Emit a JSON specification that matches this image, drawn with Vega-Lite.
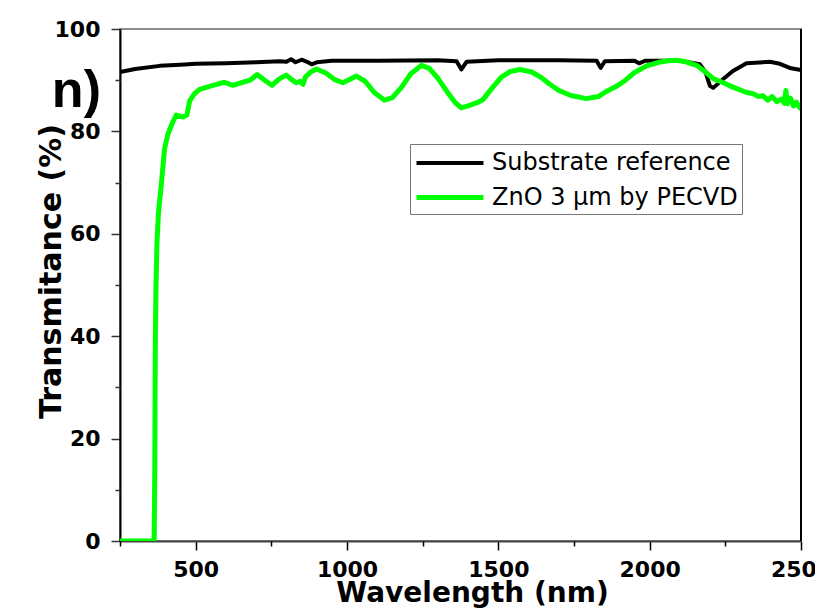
{
  "$schema": "https://vega.github.io/schema/vega-lite/v6.json",
  "width": 681,
  "height": 512,
  "autosize": {"type": "none"},
  "padding": {"left": 120, "top": 29, "right": 14, "bottom": 74},
  "background": "white",
  "config": {"view": {"stroke": "#666", "strokeWidth": 1.5}, "font": "DejaVu Sans"},
  "resolve": {"axis": {"x": "independent", "y": "independent"}},
  "datasets": {
    "spectra": [
      {"series": "Substrate reference", "wavelength": 250, "t": 91.6},
      {"series": "Substrate reference", "wavelength": 300, "t": 92.2},
      {"series": "Substrate reference", "wavelength": 381, "t": 92.8},
      {"series": "Substrate reference", "wavelength": 450, "t": 93.0},
      {"series": "Substrate reference", "wavelength": 500, "t": 93.2},
      {"series": "Substrate reference", "wavelength": 600, "t": 93.3},
      {"series": "Substrate reference", "wavelength": 700, "t": 93.5},
      {"series": "Substrate reference", "wavelength": 777, "t": 93.7},
      {"series": "Substrate reference", "wavelength": 800, "t": 93.6},
      {"series": "Substrate reference", "wavelength": 815, "t": 94.1},
      {"series": "Substrate reference", "wavelength": 830, "t": 93.5},
      {"series": "Substrate reference", "wavelength": 850, "t": 94.0},
      {"series": "Substrate reference", "wavelength": 868, "t": 93.6},
      {"series": "Substrate reference", "wavelength": 883, "t": 93.1},
      {"series": "Substrate reference", "wavelength": 900, "t": 93.5},
      {"series": "Substrate reference", "wavelength": 950, "t": 93.8},
      {"series": "Substrate reference", "wavelength": 1100, "t": 93.8},
      {"series": "Substrate reference", "wavelength": 1300, "t": 93.9},
      {"series": "Substrate reference", "wavelength": 1362, "t": 93.7},
      {"series": "Substrate reference", "wavelength": 1378, "t": 92.1},
      {"series": "Substrate reference", "wavelength": 1395, "t": 93.6},
      {"series": "Substrate reference", "wavelength": 1500, "t": 93.9},
      {"series": "Substrate reference", "wavelength": 1700, "t": 93.9},
      {"series": "Substrate reference", "wavelength": 1825, "t": 93.8},
      {"series": "Substrate reference", "wavelength": 1838, "t": 92.4},
      {"series": "Substrate reference", "wavelength": 1852, "t": 93.7},
      {"series": "Substrate reference", "wavelength": 1950, "t": 93.8},
      {"series": "Substrate reference", "wavelength": 1965, "t": 93.3},
      {"series": "Substrate reference", "wavelength": 1985, "t": 93.8},
      {"series": "Substrate reference", "wavelength": 2100, "t": 93.8},
      {"series": "Substrate reference", "wavelength": 2166, "t": 93.1},
      {"series": "Substrate reference", "wavelength": 2185, "t": 91.5},
      {"series": "Substrate reference", "wavelength": 2199, "t": 88.9},
      {"series": "Substrate reference", "wavelength": 2210, "t": 88.5},
      {"series": "Substrate reference", "wavelength": 2242, "t": 90.2},
      {"series": "Substrate reference", "wavelength": 2275, "t": 91.8},
      {"series": "Substrate reference", "wavelength": 2320, "t": 93.3},
      {"series": "Substrate reference", "wavelength": 2397, "t": 93.6},
      {"series": "Substrate reference", "wavelength": 2430, "t": 93.2},
      {"series": "Substrate reference", "wavelength": 2463, "t": 92.4},
      {"series": "Substrate reference", "wavelength": 2500, "t": 92.0},
      {"series": "ZnO 3 µm by PECVD", "wavelength": 250, "t": 0},
      {"series": "ZnO 3 µm by PECVD", "wavelength": 300, "t": 0},
      {"series": "ZnO 3 µm by PECVD", "wavelength": 363, "t": 0},
      {"series": "ZnO 3 µm by PECVD", "wavelength": 365, "t": 15},
      {"series": "ZnO 3 µm by PECVD", "wavelength": 366, "t": 30},
      {"series": "ZnO 3 µm by PECVD", "wavelength": 367, "t": 40},
      {"series": "ZnO 3 µm by PECVD", "wavelength": 369, "t": 50},
      {"series": "ZnO 3 µm by PECVD", "wavelength": 372, "t": 58},
      {"series": "ZnO 3 µm by PECVD", "wavelength": 377, "t": 64},
      {"series": "ZnO 3 µm by PECVD", "wavelength": 386, "t": 69.3},
      {"series": "ZnO 3 µm by PECVD", "wavelength": 397, "t": 76.5},
      {"series": "ZnO 3 µm by PECVD", "wavelength": 408, "t": 79.4},
      {"series": "ZnO 3 µm by PECVD", "wavelength": 425, "t": 81.9},
      {"series": "ZnO 3 µm by PECVD", "wavelength": 436, "t": 83.2},
      {"series": "ZnO 3 µm by PECVD", "wavelength": 458, "t": 82.8},
      {"series": "ZnO 3 µm by PECVD", "wavelength": 471, "t": 83.2},
      {"series": "ZnO 3 µm by PECVD", "wavelength": 480, "t": 85.9},
      {"series": "ZnO 3 µm by PECVD", "wavelength": 495, "t": 87.3},
      {"series": "ZnO 3 µm by PECVD", "wavelength": 513, "t": 88.2},
      {"series": "ZnO 3 µm by PECVD", "wavelength": 557, "t": 89.0},
      {"series": "ZnO 3 µm by PECVD", "wavelength": 595, "t": 89.6},
      {"series": "ZnO 3 µm by PECVD", "wavelength": 623, "t": 89.0},
      {"series": "ZnO 3 µm by PECVD", "wavelength": 656, "t": 89.6},
      {"series": "ZnO 3 µm by PECVD", "wavelength": 680, "t": 90.0},
      {"series": "ZnO 3 µm by PECVD", "wavelength": 703, "t": 91.1},
      {"series": "ZnO 3 µm by PECVD", "wavelength": 728, "t": 90.0},
      {"series": "ZnO 3 µm by PECVD", "wavelength": 752, "t": 89.0},
      {"series": "ZnO 3 µm by PECVD", "wavelength": 775, "t": 90.2},
      {"series": "ZnO 3 µm by PECVD", "wavelength": 799, "t": 91.0},
      {"series": "ZnO 3 µm by PECVD", "wavelength": 815, "t": 90.2},
      {"series": "ZnO 3 µm by PECVD", "wavelength": 832, "t": 89.5},
      {"series": "ZnO 3 µm by PECVD", "wavelength": 845, "t": 89.8},
      {"series": "ZnO 3 µm by PECVD", "wavelength": 855, "t": 89.2},
      {"series": "ZnO 3 µm by PECVD", "wavelength": 862, "t": 90.6},
      {"series": "ZnO 3 µm by PECVD", "wavelength": 880, "t": 91.6},
      {"series": "ZnO 3 µm by PECVD", "wavelength": 899, "t": 92.2},
      {"series": "ZnO 3 µm by PECVD", "wavelength": 930, "t": 91.4},
      {"series": "ZnO 3 µm by PECVD", "wavelength": 960, "t": 90.1},
      {"series": "ZnO 3 µm by PECVD", "wavelength": 986, "t": 89.5},
      {"series": "ZnO 3 µm by PECVD", "wavelength": 1010, "t": 90.2},
      {"series": "ZnO 3 µm by PECVD", "wavelength": 1031, "t": 90.8},
      {"series": "ZnO 3 µm by PECVD", "wavelength": 1060, "t": 89.8},
      {"series": "ZnO 3 µm by PECVD", "wavelength": 1090, "t": 87.6},
      {"series": "ZnO 3 µm by PECVD", "wavelength": 1124, "t": 86.1},
      {"series": "ZnO 3 µm by PECVD", "wavelength": 1150, "t": 86.6},
      {"series": "ZnO 3 µm by PECVD", "wavelength": 1180, "t": 88.6},
      {"series": "ZnO 3 µm by PECVD", "wavelength": 1210, "t": 91.2},
      {"series": "ZnO 3 µm by PECVD", "wavelength": 1246, "t": 92.9},
      {"series": "ZnO 3 µm by PECVD", "wavelength": 1272, "t": 92.3},
      {"series": "ZnO 3 µm by PECVD", "wavelength": 1300, "t": 90.4},
      {"series": "ZnO 3 µm by PECVD", "wavelength": 1330, "t": 87.8},
      {"series": "ZnO 3 µm by PECVD", "wavelength": 1358, "t": 85.6},
      {"series": "ZnO 3 µm by PECVD", "wavelength": 1378, "t": 84.6},
      {"series": "ZnO 3 µm by PECVD", "wavelength": 1400, "t": 85.0},
      {"series": "ZnO 3 µm by PECVD", "wavelength": 1430, "t": 85.6},
      {"series": "ZnO 3 µm by PECVD", "wavelength": 1449, "t": 86.2},
      {"series": "ZnO 3 µm by PECVD", "wavelength": 1480, "t": 88.5},
      {"series": "ZnO 3 µm by PECVD", "wavelength": 1510, "t": 90.6},
      {"series": "ZnO 3 µm by PECVD", "wavelength": 1540, "t": 91.7},
      {"series": "ZnO 3 µm by PECVD", "wavelength": 1571, "t": 92.1},
      {"series": "ZnO 3 µm by PECVD", "wavelength": 1610, "t": 91.6},
      {"series": "ZnO 3 µm by PECVD", "wavelength": 1640, "t": 90.6},
      {"series": "ZnO 3 µm by PECVD", "wavelength": 1670, "t": 89.2},
      {"series": "ZnO 3 µm by PECVD", "wavelength": 1700, "t": 88.0},
      {"series": "ZnO 3 µm by PECVD", "wavelength": 1740, "t": 87.0},
      {"series": "ZnO 3 µm by PECVD", "wavelength": 1791, "t": 86.4},
      {"series": "ZnO 3 µm by PECVD", "wavelength": 1830, "t": 86.8},
      {"series": "ZnO 3 µm by PECVD", "wavelength": 1860, "t": 87.9},
      {"series": "ZnO 3 µm by PECVD", "wavelength": 1890, "t": 88.8},
      {"series": "ZnO 3 µm by PECVD", "wavelength": 1920, "t": 90.0},
      {"series": "ZnO 3 µm by PECVD", "wavelength": 1950, "t": 91.5},
      {"series": "ZnO 3 µm by PECVD", "wavelength": 1990, "t": 92.8},
      {"series": "ZnO 3 µm by PECVD", "wavelength": 2030, "t": 93.5},
      {"series": "ZnO 3 µm by PECVD", "wavelength": 2060, "t": 93.8},
      {"series": "ZnO 3 µm by PECVD", "wavelength": 2089, "t": 93.9},
      {"series": "ZnO 3 µm by PECVD", "wavelength": 2120, "t": 93.6},
      {"series": "ZnO 3 µm by PECVD", "wavelength": 2155, "t": 92.9},
      {"series": "ZnO 3 µm by PECVD", "wavelength": 2180, "t": 91.8},
      {"series": "ZnO 3 µm by PECVD", "wavelength": 2210, "t": 90.3},
      {"series": "ZnO 3 µm by PECVD", "wavelength": 2240, "t": 89.6},
      {"series": "ZnO 3 µm by PECVD", "wavelength": 2265, "t": 88.9},
      {"series": "ZnO 3 µm by PECVD", "wavelength": 2290, "t": 88.3},
      {"series": "ZnO 3 µm by PECVD", "wavelength": 2320, "t": 87.6},
      {"series": "ZnO 3 µm by PECVD", "wavelength": 2340, "t": 87.4},
      {"series": "ZnO 3 µm by PECVD", "wavelength": 2360, "t": 86.8},
      {"series": "ZnO 3 µm by PECVD", "wavelength": 2374, "t": 87.0},
      {"series": "ZnO 3 µm by PECVD", "wavelength": 2390, "t": 86.1},
      {"series": "ZnO 3 µm by PECVD", "wavelength": 2405, "t": 86.8},
      {"series": "ZnO 3 µm by PECVD", "wavelength": 2420, "t": 85.8},
      {"series": "ZnO 3 µm by PECVD", "wavelength": 2435, "t": 86.3},
      {"series": "ZnO 3 µm by PECVD", "wavelength": 2445, "t": 85.5},
      {"series": "ZnO 3 µm by PECVD", "wavelength": 2450, "t": 88.0},
      {"series": "ZnO 3 µm by PECVD", "wavelength": 2455, "t": 85.4},
      {"series": "ZnO 3 µm by PECVD", "wavelength": 2465, "t": 86.5},
      {"series": "ZnO 3 µm by PECVD", "wavelength": 2475, "t": 85.0},
      {"series": "ZnO 3 µm by PECVD", "wavelength": 2485, "t": 85.7},
      {"series": "ZnO 3 µm by PECVD", "wavelength": 2496, "t": 84.6},
      {"series": "ZnO 3 µm by PECVD", "wavelength": 2500, "t": 85.0}
    ],
    "annotation": [
      {"label": "n)", "wavelength": 106, "t": 84.7}
    ]
  },
  "layer": [
    {
      "data": {"name": "spectra"},
      "mark": {"type": "line", "interpolate": "linear", "clip": true, "strokeJoin": "round"},
      "encoding": {
        "x": {
          "field": "wavelength",
          "type": "quantitative",
          "scale": {"domain": [250, 2500], "nice": false, "zero": false},
          "axis": {
            "orient": "bottom",
            "values": [500, 1000, 1500, 2000, 2500],
            "format": "d",
            "grid": false,
            "ticks": true,
            "domainColor": "#444",
            "domainWidth": 2,
            "tickColor": "#000",
            "tickWidth": 1.5,
            "tickSize": 9,
            "labelFont": "DejaVu Sans",
            "labelFontWeight": "bold",
            "labelFontSize": 22,
            "labelColor": "#000",
            "labelPadding": 9,
            "labelFlush": false,
            "labelOverlap": false,
            "title": "Wavelength (nm)",
            "titleFont": "DejaVu Sans",
            "titleFontWeight": "bold",
            "titleFontSize": 28,
            "titleColor": "#000",
            "titleX": 352,
            "titleY": 60,
            "titleAlign": "center",
            "titleBaseline": "alphabetic"
          }
        },
        "y": {
          "field": "t",
          "type": "quantitative",
          "scale": {"domain": [0, 100], "nice": false},
          "axis": {
            "orient": "left",
            "values": [0, 20, 40, 60, 80, 100],
            "grid": false,
            "ticks": true,
            "domainColor": "#000",
            "domainWidth": 2,
            "tickColor": "#333",
            "tickWidth": 1.5,
            "tickSize": 9,
            "labelFont": "DejaVu Sans",
            "labelFontWeight": "bold",
            "labelFontSize": 22,
            "labelColor": "#000",
            "labelPadding": 11,
            "labelOverlap": false,
            "labelFlush": false,
            "title": "Transmitance (%)",
            "titleFont": "DejaVu Sans",
            "titleFontWeight": "bold",
            "titleFontSize": 30,
            "titleColor": "#000",
            "titleAngle": -90,
            "titleX": -60,
            "titleY": 242,
            "titleAlign": "center",
            "titleBaseline": "alphabetic"
          }
        },
        "color": {
          "field": "series",
          "type": "nominal",
          "scale": {"domain": ["Substrate reference", "ZnO 3 µm by PECVD"], "range": ["#000000", "#00ff00"]},
          "legend": {
            "orient": "none",
            "legendX": 290,
            "legendY": 115,
            "title": null,
            "strokeColor": "#777",
            "fillColor": "white",
            "padding": 4,
            "symbolType": "M-1,0H4.15",
            "symbolStrokeWidth": 4,
            "symbolSize": 676,
            "labelFont": "DejaVu Sans",
            "labelFontSize": 24,
            "labelColor": "#000",
            "labelLimit": 400,
            "labelOffset": 47,
            "rowPadding": 7
          }
        },
        "strokeWidth": {
          "field": "series",
          "type": "nominal",
          "scale": {"domain": ["Substrate reference", "ZnO 3 µm by PECVD"], "range": [4, 5]},
          "legend": null
        }
      }
    },
    {
      "data": {"name": "annotation"},
      "mark": {"type": "text", "clip": false, "font": "Liberation Sans", "fontWeight": "bold", "fontSize": 52, "align": "center", "baseline": "alphabetic", "color": "#000"},
      "encoding": {
        "x": {
          "field": "wavelength",
          "type": "quantitative",
          "axis": {
            "orient": "bottom",
            "values": [250, 750, 1250, 1750, 2250],
            "labels": false,
            "domain": false,
            "grid": false,
            "ticks": true,
            "title": null,
            "tickSize": 5,
            "tickWidth": 1.5,
            "tickColor": "#000"
          }
        },
        "y": {
          "field": "t",
          "type": "quantitative",
          "axis": {
            "orient": "left",
            "values": [10, 30, 50, 70, 90],
            "labels": false,
            "domain": false,
            "grid": false,
            "ticks": true,
            "title": null,
            "tickSize": 5,
            "tickWidth": 1.5,
            "tickColor": "#333"
          }
        },
        "text": {"field": "label"}
      }
    },
    {
      "data": {"values": [{}]},
      "mark": {"type": "rule", "color": "#000", "strokeWidth": 2},
      "encoding": {"x": {"datum": 2500, "type": "quantitative", "axis": null}}
    }
  ]
}
